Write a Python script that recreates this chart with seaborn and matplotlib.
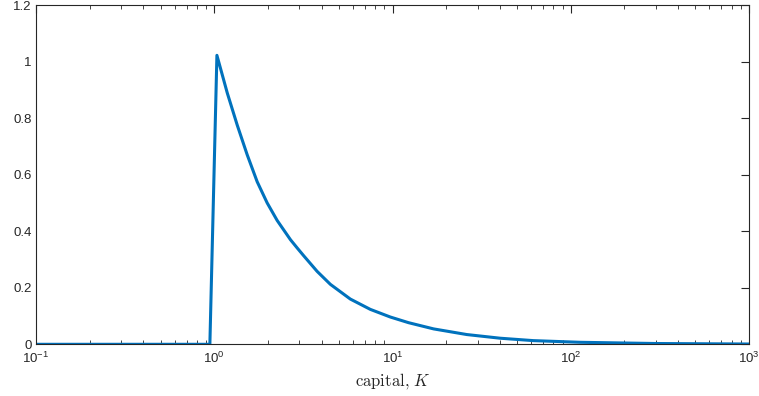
import matplotlib
matplotlib.use("Agg")
import matplotlib.pyplot as plt
import seaborn as sns
import pandas as pd
from matplotlib.ticker import LogLocator

# data
capital = [0.1, 0.5, 0.945, 1.035, 1.183, 1.346, 1.531, 1.741, 1.981, 2.254,
           2.676, 2.917, 3.177, 3.776, 4.483, 5.80, 7.51, 9.72, 12.3, 17.0,
           26.1, 40.2, 61.7, 112.7, 300.0, 1000.0]
density = [0.0, 0.0, 0.0, 1.022, 0.889, 0.775, 0.670, 0.575, 0.500, 0.438,
           0.370, 0.341, 0.313, 0.258, 0.212, 0.160, 0.1235, 0.0965, 0.0765,
           0.0545, 0.0345, 0.0215, 0.0130, 0.0071, 0.0028, 0.001]
yticks = [0, 0.2, 0.4, 0.6, 0.8, 1, 1.2]
ytick_labels = ["0", "0.2", "0.4", "0.6", "0.8", "1", "1.2"]

sns.set_theme(style="white")
plt.rcParams["font.family"] = ["Liberation Sans", "DejaVu Sans"]
plt.rcParams["mathtext.fontset"] = "cm"

df = pd.DataFrame({"capital": capital, "density": density})

fig = plt.figure(figsize=(7.59, 3.96), dpi=100)
ax = fig.add_axes([36 / 759, 1 - 344.3 / 396, (749 - 36) / 759, (344.3 - 5) / 396])

sns.lineplot(data=df, x="capital", y="density", ax=ax, color="#0072BD",
             linewidth=2.2, sort=False, estimator=None)

ax.set_xscale("log")
ax.set_xlim(0.1, 1000)
ax.set_ylim(0, 1.2)
ax.set_yticks(yticks)
ax.set_yticklabels(ytick_labels)
ax.xaxis.set_major_locator(LogLocator(base=10, numticks=10))
ax.xaxis.set_minor_locator(LogLocator(base=10, subs=range(2, 10), numticks=20))

axis_color = "#262626"
for s in ax.spines.values():
    s.set_visible(True)
    s.set_color(axis_color)
    s.set_linewidth(0.8)

ax.tick_params(axis="both", which="major", direction="in", length=5.5, width=0.8,
               color=axis_color, labelcolor=axis_color, labelsize=9.5,
               top=True, right=True, pad=3)
ax.tick_params(axis="x", which="major", pad=5)
ax.tick_params(axis="x", which="minor", direction="in", length=3, width=0.6,
               color=axis_color, top=True, bottom=True)
ax.tick_params(axis="y", which="minor", left=False, right=False)

ax.set_ylabel("")
ax.set_xlabel(r"$\mathrm{capital,}\,K$", fontsize=12, color=axis_color, labelpad=3)
ax.grid(False)

fig.savefig("out.png", dpi=100)
